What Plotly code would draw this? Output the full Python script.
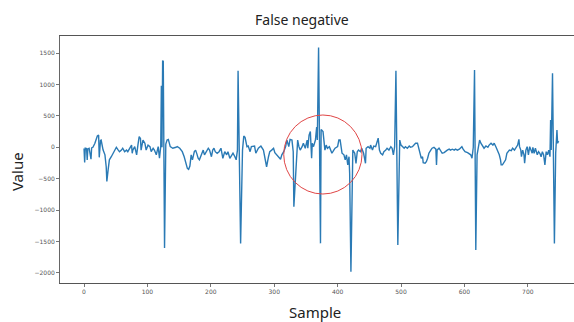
import plotly.graph_objects as go

# Samples (x) and values (y)
sample = [0, 1, 2, 4, 5, 6, 8, 11, 12, 14, 17, 21, 23, 24, 26, 27, 30, 33, 35, 36, 38, 40, 43, 46, 48,
          51, 54, 56, 59, 61, 64, 67, 69, 72, 75, 76, 77, 80, 83, 85, 87, 89, 90, 93, 96, 98, 101, 104,
          106, 109, 111, 114, 117, 119, 121, 122, 123, 124, 125, 127, 128, 129, 131, 133, 136, 140, 145,
          147, 151, 155, 158, 161, 163, 165, 167, 169, 171, 174, 176, 178, 180, 182, 184, 186, 188, 190,
          193, 196, 198, 201, 203, 205, 207, 210, 213, 216, 219, 222, 225, 227, 230, 233, 235, 238, 240,
          242, 243, 247, 249, 250, 252, 254, 257, 259, 262, 264, 269, 271, 275, 279, 283, 285, 288, 291,
          293, 296, 299, 301, 304, 307, 310, 312, 315, 318, 320, 323, 325, 328, 330, 331, 333, 335, 337,
          339, 341, 344, 346, 349, 352, 353, 355, 357, 359, 360, 362, 365, 367, 368, 370, 373, 374, 377,
          378, 380, 382, 384, 387, 389, 391, 394, 396, 400, 402, 404, 407, 410, 412, 414, 416, 418, 419,
          421, 423, 424, 427, 429, 431, 433, 436, 438, 441, 444, 445, 448, 451, 452, 455, 457, 460, 463,
          464, 466, 468, 471, 473, 476, 478, 481, 484, 486, 488, 490, 492, 495, 497, 498, 500, 502, 505,
          507, 510, 513, 515, 518, 521, 523, 526, 528, 530, 532, 534, 535, 538, 540, 542, 544, 547, 549,
          552, 555, 556, 557, 560, 563, 565, 568, 571, 573, 576, 578, 581, 584, 586, 589, 592, 594, 596,
          598, 601, 605, 607, 610, 612, 614, 616, 618, 620, 622, 624, 626, 629, 631, 634, 637, 639, 642,
          645, 647, 650, 652, 655, 657, 658, 660, 663, 665, 667, 669, 671, 674, 676, 679, 681, 684, 686,
          687, 689, 690, 692, 694, 695, 697, 699, 701, 703, 705, 707, 708, 710, 712, 715, 717, 719, 721,
          723, 725, 727, 729, 731, 733, 735, 736, 737, 739, 742, 744, 746, 747, 748, 749]

value = [-20, -240, -15, -20, -200, -25, -15, -190, -10, 0, 60, 180, 195, -160, 110, 115, -40, -120, -310,
         -545, -360, -200, -150, -95, -45, 0, -45, -70, -45, -15, -70, -45, -70, -15, 35, -95, -45, 10,
         -120, 35, 170, 140, -45, 115, 65, -45, 35, 10, -70, -15, -45, -120, 10, -175, 10, 980, 0, 1380,
         1370, -1605, -100, 50, 115, 125, 10, -15, 0,
         10, -15, -70, -150, -255, -335, -350, -300, -120, -200, -70, -45, -105, -175, -200, -150, -95,
         -45, -120, -70, -15, -45, -150, -45, -15, -70, -95, -70, -15, -175, -70, -120, -70, -175, -120,
         -95, -150, -200, -45, 1220, -1530, -100, -45, 180, 160, 10, 20, -70, 10, 20, -95, -15, 20, -45,
         -175, -310, -150, -70, -45, -15, -85, -120, -150, -190, -120, -70, 10, 115, 10, 125, 115, -70,
         -945, -575, -45, 115, 10, -45, 10, 65, -15, 115, -15, 195, 250, -175, 65, 10, 115, 320, 115,
         1590, -1530, 285, 250, 115, -45, 35, -15, 10, -45, -95, -45, -15, 10, 115, 115, -95, -120, -200,
         -120, -280, -150, -415, -1980, -415, -45, -95, -255, -70, -45, -70, -15, -95, -255, -15, 10, -15,
         35, -45, 20, 10, 115, 145, -45, -95, -120, -70, -45, -15, -45, 10, -15, -120, 10, 1220, -1555,
         -95, 115, 35, 10, -15, 10, -15, 20, 0, 10, 35, 65, 65, -15, -120, -175, -150, -245, -255, -230,
         -175, -95, -45, -15, 0, -30, -280, -45, -15, -70, -95, -85, -55, -45, -30, -45, -30, -45, -30,
         -45, -30, 0, 10, -30, -70, -85, -95, -120, -175, 0, 1230, -1635, -120, 10, 115, 65, 10, -15, 20,
         0, 35, 65, 35, 65, 0, -45, -120, -200, -280, -280, -230, -200, -95, -70, -45, -55, -15, -45, -15,
         35, 125, 10, -45, -150, -45, -120, -255, -45, 10, -120, 10, -45, -95, 0, -95, -15, -120, -70, -95,
         -150, -70, -120, -280, -70, -120, -45, -150, 435, -45, 1180, -1530, -95, 275, 65, 90, 80]

x_ticks = [0, 100, 200, 300, 400, 500, 600, 700]
y_ticks = [-2000, -1500, -1000, -500, 0, 500, 1000, 1500]

# Highlighted region (red circle) in data units
circle_x = [315, 438.5]
circle_y = [-744, 514]

title_text = "False negative"
x_title = "Sample"
y_title = "Value"

fig = go.Figure()
fig.add_trace(go.Scatter(
    x=sample, y=value, mode="lines",
    line=dict(color="#2a7ab5", width=1.4),
    showlegend=False, hoverinfo="skip",
))

fig.add_shape(type="circle", xref="x", yref="y",
              x0=circle_x[0], x1=circle_x[1], y0=circle_y[0], y1=circle_y[1],
              line=dict(color="#e04646", width=1))

tick_font = dict(family="DejaVu Sans", size=6, color="#555555")
fig.update_xaxes(
    range=[-37.9, 772.9], tickvals=x_ticks, showgrid=False, zeroline=False,
    showline=True, linecolor="#555555", linewidth=1, mirror=True,
    ticks="outside", ticklen=3, tickcolor="#777777", tickwidth=1,
    tickfont=tick_font,
)
fig.update_yaxes(
    range=[-2161, 1772], tickvals=y_ticks, showgrid=False, zeroline=False,
    showline=True, linecolor="#666666", linewidth=1,
    ticks="outside", ticklen=3, tickcolor="#777777", tickwidth=1,
    tickfont=tick_font, tickformat="d",
)

label_font = dict(family="Noto Sans", size=15, color="#222222")
fig.add_annotation(text=x_title, xref="paper", yref="paper", x=0.496, y=-0.117,
                   showarrow=False, font=label_font, xanchor="center", yanchor="middle")
fig.add_annotation(text=y_title, xref="paper", yref="paper", x=-0.0837, y=0.453,
                   showarrow=False, font=label_font, textangle=-90,
                   xanchor="center", yanchor="middle")

fig.update_layout(
    width=574, height=322,
    margin=dict(l=60, r=0, t=36, b=39),
    paper_bgcolor="white", plot_bgcolor="white",
    title=dict(text=title_text, x=0.526, xref="container", y=0.938, yref="container",
               xanchor="center", yanchor="middle",
               font=dict(family="Noto Sans", size=14, color="#222222")),
)

fig.write_html("out.html", config={"displayModeBar": False},
               post_script="document.body.style.margin='0';document.body.style.overflow='hidden';")
